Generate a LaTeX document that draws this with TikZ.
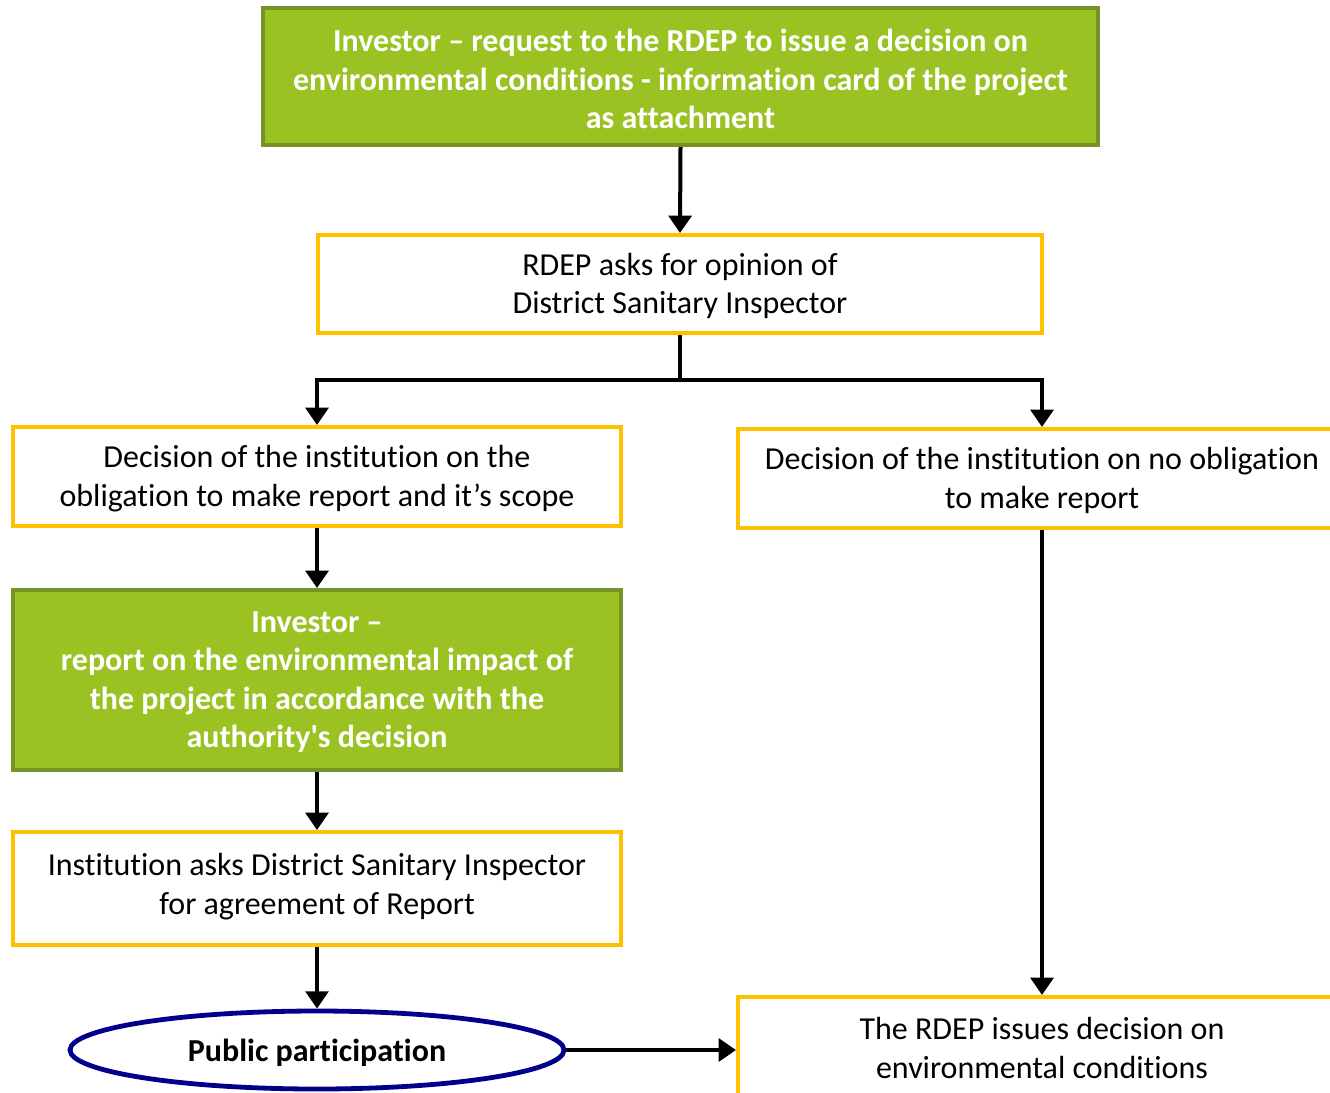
\documentclass[tikz,border=0pt]{standalone}
\usepackage{fontspec}
\setmainfont[Ligatures={NoCommon}]{Carlito}
\usetikzlibrary{arrows.meta,shapes.geometric}
\definecolor{gfill}{RGB}{155,194,35}
\definecolor{gborder}{RGB}{118,146,40}
\definecolor{ybord}{RGB}{255,192,0}
\definecolor{eblue}{RGB}{0,0,140}
\tikzset{
  px/.style={x=0.75pt,y=-0.75pt},
  txt/.style={font=\fontsize{24}{28.9}\selectfont, align=center, inner sep=0pt},
  btxt/.style={txt, font=\fontsize{24}{28.9}\selectfont\bfseries},
  greenbox/.style={rectangle, draw=gborder, fill=gfill, line width=3pt, inner sep=0pt},
  yellowbox/.style={rectangle, draw=ybord, fill=white, line width=3pt, inner sep=0pt},
  arr/.style={line width=3pt, -{Triangle[width=17pt,length=13pt]}},
  ln/.style={line width=3pt}
}
\newcommand{\boxtext}[4][]{\node[txt,#1] at ([yshift=#3]#2.center) {#4};}
\begin{document}
\begin{tikzpicture}[px]
\useasboundingbox (0,0) rectangle (1330,1092);
\clip (0,0) rectangle (1330,1092);
\node[greenbox, minimum width={835*0.75pt}, minimum height={137*0.75pt}] (top) at (680.5,76.5) {};
\boxtext[btxt,text=white]{top}{-2pt}{Investor -- request to the RDEP to issue a decision on\\environmental conditions - information card of the project\\as attachment}
\node[yellowbox, minimum width={724*0.75pt}, minimum height={98*0.75pt}] (rdep) at (680,284) {};
\boxtext{rdep}{-1.5pt}{RDEP asks for opinion of\\District Sanitary Inspector}
\node[yellowbox, minimum width={608*0.75pt}, minimum height={99*0.75pt}] (ldec) at (317,476.5) {};
\boxtext{ldec}{-1.5pt}{Decision of the institution on the\\obligation to make report and it’s scope}
\node[yellowbox, minimum width={608*0.75pt}, minimum height={99*0.75pt}] (rdec) at (1042,478.5) {};
\boxtext{rdec}{-1.5pt}{Decision of the institution on no obligation\\to make report}
\node[greenbox, minimum width={608*0.75pt}, minimum height={180*0.75pt}] (inv2) at (317,680) {};
\boxtext[btxt,text=white]{inv2}{-1.5pt}{Investor --\\report on the environmental impact of\\the project in accordance with the\\authority\textquotesingle s decision}
\node[yellowbox, minimum width={608*0.75pt}, minimum height={113*0.75pt}] (inst) at (317,888.5) {};
\boxtext{inst}{1.5pt}{Institution asks District Sanitary Inspector\\for agreement of Report}
\node[ellipse, draw=eblue, line width=3.6pt, fill=white, inner sep=0pt, minimum width={494*0.75pt}, minimum height={78*0.75pt}] (pub) at (317,1050) {};
\boxtext[btxt]{pub}{-2pt}{Public participation}
\node[yellowbox, minimum width={608*0.75pt}, minimum height={98*0.75pt}] (final) at (1042,1046) {};
\boxtext{final}{-1.5pt}{The RDEP issues decision on\\environmental conditions}
\coordinate (br) at (680,380);
\draw[arr] (top.south) -- (rdep.north);
\draw[ln] (rdep.south) -- (br);
\draw[arr] (br) -| (ldec.north);
\draw[arr] (br) -| (rdec.north);
\draw[arr] (ldec.south) -- (inv2.north);
\draw[arr] (inv2.south) -- (inst.north);
\draw[arr] (inst.south) -- (pub.north);
\draw[arr] (pub.east) -- (final.west |- pub.east);
\draw[arr] (rdec.south) -- (final.north);
\end{tikzpicture}
\end{document}
